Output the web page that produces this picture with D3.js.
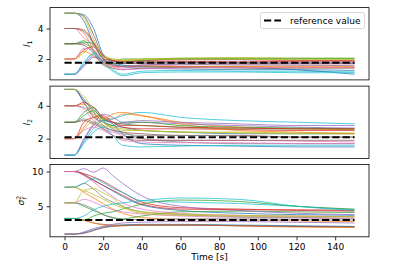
<!DOCTYPE html>
<html lang="en">
  <head>
    <meta charset="utf-8">
    <title>Hyperparameter traces</title>
    <script type="text/javascript" src="https://cdn.jsdelivr.net/npm/d3@7"></script>
    <style>
      body { margin: 0; background: #fff; }
      text { font-family: "DejaVu Sans", sans-serif; }
    </style>
  </head>
  <body>
    <script type="text/javascript">

    // time samples shared by every trace
    var times = [0, 5, 10, 15, 20, 25, 30, 40, 60, 90, 120, 150];
    var xTicks = [0, 20, 40, 60, 80, 100, 120, 140];

    // reference values (dashed lines)
    var refValues = [1.75, 2.08, 3.04];

    // l1 traces
    var l1 = [
      [5, 5, 4.5, 3.0, 2.0, 1.7, 1.5, 1.4, 1.35, 1.3, 1.3, 1.25],
      [4, 4, 3.7, 2.6, 1.8, 1.6, 1.5, 1.55, 1.5, 1.5, 1.45, 1.45],
      [3, 3, 3.2, 2.5, 1.9, 1.8, 2.0, 2.0, 2.05, 2.05, 2.05, 2.05],
      [2, 2, 2.6, 2.8, 2.0, 1.9, 1.85, 1.9, 1.95, 1.95, 1.9, 1.9],
      [1, 1, 1.6, 2.2, 1.9, 1.7, 1.7, 1.75, 1.8, 1.8, 1.8, 1.8],
      [5, 5, 4.8, 3.6, 2.2, 1.9, 1.7, 1.7, 1.75, 1.7, 1.7, 1.7],
      [4, 4, 3.4, 2.9, 2.1, 1.6, 1.4, 1.5, 1.6, 1.65, 1.6, 1.6],
      [3, 3, 3.0, 2.6, 1.8, 1.6, 1.55, 1.6, 1.65, 1.6, 1.6, 1.55],
      [2, 2, 2.4, 2.9, 2.3, 2.0, 1.95, 2.0, 2.05, 2.1, 2.05, 2.05],
      [1, 1, 1.7, 2.4, 1.8, 1.3, 1.0, 1.2, 1.25, 1.2, 1.2, 1.15],
      [5, 5, 4.9, 4.0, 2.3, 1.8, 1.6, 1.5, 1.5, 1.45, 1.3, 1.0],
      [2, 2, 2.5, 2.2, 1.7, 1.5, 1.5, 1.55, 1.5, 1.5, 1.5, 1.5],
      [3, 3, 3.1, 3.0, 2.0, 1.7, 1.8, 1.9, 2.0, 2.0, 2.0, 2.0],
      [4, 4, 3.9, 3.1, 2.2, 1.9, 1.8, 1.85, 1.85, 1.8, 1.85, 1.85],
      [1, 1, 1.5, 2.1, 1.9, 1.6, 1.5, 1.6, 1.7, 1.75, 1.7, 1.7],
      [3, 3, 2.9, 2.4, 1.6, 1.4, 1.3, 1.4, 1.45, 1.4, 1.4, 1.4],
      [2, 2, 2.7, 2.6, 1.8, 1.5, 1.3, 1.35, 1.4, 1.45, 1.45, 1.45],
      [4, 4, 3.8, 3.0, 2.0, 1.7, 1.75, 1.8, 1.8, 1.75, 1.75, 1.75],
      [5, 5, 4.7, 3.3, 2.1, 2.0, 1.9, 1.95, 2.0, 2.0, 1.95, 1.95],
      [1, 1, 1.8, 2.3, 1.7, 1.2, 0.9, 1.1, 1.15, 1.15, 1.1, 1.1]
    ];

    // l2 traces
    var l2 = [
      [5, 5, 4.4, 3.6, 3.0, 2.8, 2.7, 2.5, 2.4, 2.3, 2.3, 2.3],
      [4, 4, 4.1, 3.5, 3.3, 3.2, 3.5, 3.4, 3.0, 2.7, 2.6, 2.55],
      [3, 3, 3.6, 3.9, 3.2, 3.0, 2.9, 2.8, 2.7, 2.6, 2.6, 2.6],
      [2, 2, 3.0, 3.3, 3.4, 3.0, 2.7, 2.6, 2.6, 2.55, 2.5, 2.5],
      [1, 1, 1.9, 2.8, 3.1, 3.0, 2.9, 3.0, 2.9, 2.8, 2.7, 2.65],
      [5, 5, 4.2, 3.3, 3.0, 2.6, 2.4, 2.3, 2.2, 2.2, 2.1, 2.1],
      [4, 4, 3.8, 3.1, 2.6, 2.4, 2.2, 2.0, 1.9, 1.9, 1.85, 1.8],
      [3, 3, 3.2, 3.0, 2.7, 2.5, 2.4, 2.0, 1.8, 1.7, 1.7, 1.7],
      [2, 2, 2.6, 3.0, 2.8, 2.7, 2.6, 2.5, 2.4, 2.35, 2.3, 2.3],
      [1, 1, 1.8, 2.6, 3.1, 3.2, 3.4, 3.6, 3.3, 3.1, 3.0, 2.9],
      [5, 5, 4.3, 3.8, 3.2, 2.9, 2.3, 1.7, 1.6, 1.55, 1.5, 1.5],
      [2, 2, 2.7, 3.3, 3.2, 3.5, 3.6, 3.4, 2.9, 2.5, 2.4, 2.3],
      [3, 3, 3.4, 3.7, 3.1, 2.8, 3.0, 3.0, 2.8, 2.7, 2.65, 2.6],
      [4, 4, 4.2, 3.9, 3.3, 3.0, 2.8, 2.8, 2.7, 2.65, 2.6, 2.6],
      [1, 1, 2.0, 2.9, 3.5, 3.3, 3.0, 3.1, 3.0, 2.9, 2.8, 2.8],
      [3, 3, 3.1, 2.9, 2.6, 2.2, 2.0, 1.9, 1.9, 1.9, 1.9, 1.9],
      [2, 2, 2.5, 2.7, 2.5, 2.2, 1.9, 1.8, 1.75, 1.75, 1.7, 1.7],
      [4, 4, 3.9, 3.4, 2.8, 2.5, 2.3, 2.2, 2.2, 2.15, 2.1, 2.1],
      [5, 5, 4.6, 3.7, 3.0, 2.7, 2.5, 2.5, 2.4, 2.4, 2.35, 2.35],
      [1, 1, 1.7, 2.4, 2.7, 2.2, 1.6, 1.5, 1.55, 1.6, 1.6, 1.6]
    ];

    // sigma^2 traces
    var s2 = [
      [10, 10, 9.6, 8.8, 8.0, 7.2, 6.4, 5.2, 4.4, 4.0, 3.8, 3.7],
      [7.75, 7.75, 7.0, 6.2, 5.4, 4.6, 4.0, 3.4, 3.1, 3.0, 2.9, 2.8],
      [5.5, 5.5, 5.0, 4.4, 3.8, 3.4, 3.2, 3.6, 4.2, 4.3, 4.2, 4.1],
      [10, 10, 9.7, 9.2, 8.6, 7.8, 7.0, 5.6, 4.8, 4.6, 4.4, 4.3],
      [10, 10, 10.4, 9.9, 10.5, 9.4, 8.3, 6.5, 5.0, 4.4, 4.0, 3.8],
      [3.25, 3.25, 3.0, 2.6, 2.4, 2.3, 2.3, 2.3, 2.3, 2.2, 2.1, 2.0],
      [5.5, 5.5, 6.0, 5.6, 5.0, 4.5, 4.2, 3.9, 3.6, 3.4, 3.3, 3.2],
      [7.75, 7.75, 8.3, 7.5, 6.3, 5.6, 5.0, 4.2, 3.8, 3.5, 3.4, 3.3],
      [7.75, 7.75, 7.3, 7.6, 6.9, 6.2, 5.0, 4.0, 3.7, 3.6, 3.5, 3.5],
      [7.75, 7.75, 8.3, 9.0, 8.4, 7.6, 7.0, 5.8, 5.6, 5.4, 5.0, 4.5],
      [1, 1, 1.2, 1.6, 2.0, 2.2, 2.3, 2.4, 2.4, 2.3, 2.2, 2.1],
      [3.25, 3.25, 3.0, 2.6, 2.3, 2.2, 2.2, 2.3, 2.3, 2.2, 2.0, 1.95],
      [3.25, 3.25, 3.0, 3.6, 4.0, 4.2, 4.6, 5.3, 5.9, 5.7, 5.0, 4.6],
      [10, 10, 9.5, 8.7, 8.0, 7.3, 6.6, 5.3, 4.6, 4.5, 4.5, 4.4],
      [1, 1, 1.3, 1.8, 2.1, 2.4, 2.6, 2.7, 2.8, 2.8, 2.7, 2.6],
      [1, 1, 1.1, 1.5, 1.9, 2.1, 2.2, 2.3, 2.3, 2.2, 2.1, 2.05],
      [10, 10, 9.4, 8.5, 7.4, 6.4, 5.5, 4.6, 4.0, 3.7, 3.6, 3.5],
      [5.5, 5.5, 5.2, 4.6, 3.8, 3.3, 3.1, 3.1, 3.2, 3.2, 3.1, 3.0],
      [5.5, 5.5, 7.2, 6.7, 6.0, 5.3, 4.8, 4.2, 3.9, 3.7, 3.6, 3.5],
      [3.25, 3.25, 3.6, 4.5, 5.0, 5.3, 5.5, 5.8, 6.2, 6.0, 5.0, 4.4]
    ];

    var yTicks = [[2, 4], [2, 4], [5, 10]];
    var yDomains = [[0.63, 5.37], [0.8, 5.2], [0.61, 11.01]];

    var w = 420;
    var h = 270;
    var left = 50, right = 369;
    var tops = [7.6, 86.1, 164.5];
    var ph = 72.3;
    var fs = 9;

    var svg = d3.select("body").append("svg").attr("width", w).attr("height", h);

    var x = d3.scaleLinear().domain([-7.5, 157.5]).range([left, right]);
    var color = d3.scaleOrdinal(d3.schemeCategory10);
    var panels = [l1, l2, s2];

    panels.forEach(function(series, p) {
      var y = d3.scaleLinear().domain(yDomains[p]).range([tops[p] + ph, tops[p]]);
      var g = svg.append("g");

      var line = d3.line()
        .x(function(d, i) { return x(times[i]); })
        .y(function(d) { return y(d); })
        .curve(d3.curveMonotoneX);

      g.selectAll("path.trace").data(series).enter().append("path")
        .attr("class", "trace")
        .attr("d", line)
        .attr("fill", "none")
        .attr("stroke", function(d, i) { return color(i % 10); })
        .attr("stroke-width", 1)
        .attr("stroke-opacity", 0.75);

      // dashed reference
      g.append("line")
        .attr("x1", x(0)).attr("x2", x(150))
        .attr("y1", y(refValues[p])).attr("y2", y(refValues[p]))
        .attr("stroke", "#000").attr("stroke-width", 2)
        .attr("stroke-dasharray", "7.2,3.1");

      // y axis
      var ya = g.append("g").attr("transform", "translate(" + left + ",0)")
        .call(d3.axisLeft(y).tickValues(yTicks[p]).tickFormat(d3.format("d")).tickSize(3.5).tickPadding(3));
      ya.select(".domain").remove();
      ya.selectAll("text").attr("font-size", fs).attr("font-family", "DejaVu Sans").attr("fill", "#000");
      ya.selectAll("line").attr("stroke", "#000").attr("stroke-width", 0.8);

      // frame
      g.append("rect")
        .attr("x", left).attr("y", tops[p])
        .attr("width", right - left).attr("height", ph)
        .attr("fill", "none").attr("stroke", "#000").attr("stroke-width", 0.8);

      if (p === 2) {
        var xa = g.append("g").attr("transform", "translate(0," + (tops[p] + ph) + ")")
          .call(d3.axisBottom(x).tickValues(xTicks).tickFormat(d3.format("d")).tickSize(3.5).tickPadding(3));
        xa.select(".domain").remove();
        xa.selectAll("text").attr("font-size", fs).attr("font-family", "DejaVu Sans").attr("fill", "#000");
        xa.selectAll("line").attr("stroke", "#000").attr("stroke-width", 0.8);
      }
    });

    // y labels
    var labX = [30, 30, 24];
    [0, 1].forEach(function(p) {
      var t = svg.append("text")
        .attr("transform", "translate(" + labX[p] + "," + (tops[p] + ph / 2) + ") rotate(-90)")
        .attr("text-anchor", "middle")
        .attr("font-size", fs);
      t.append("tspan").attr("font-style", "italic").text("l");
      t.append("tspan").attr("font-size", fs * 0.7).attr("dy", 2).text(p + 1);
    });
    var ts = svg.append("text")
      .attr("transform", "translate(" + labX[2] + "," + (tops[2] + ph / 2) + ") rotate(-90)")
      .attr("text-anchor", "middle")
      .attr("font-size", fs);
    ts.append("tspan").attr("font-style", "italic").text("σ");
    ts.append("tspan").attr("font-size", fs * 0.7).attr("dy", -3.5).text("2");
    ts.append("tspan").attr("font-size", fs * 0.7).attr("font-style", "italic").attr("dx", -4).attr("dy", 6).text("f");

    // x label
    svg.append("text")
      .attr("x", (left + right) / 2).attr("y", 260)
      .attr("text-anchor", "middle")
      .attr("font-size", fs)
      .text("Time [s]");

    // legend
    var lg = svg.append("g");
    lg.append("rect")
      .attr("x", 260.5).attr("y", 12.5).attr("width", 104).attr("height", 16)
      .attr("rx", 2).attr("fill", "#fff").attr("fill-opacity", 0.8)
      .attr("stroke", "#ccc").attr("stroke-width", 0.8);
    lg.append("line")
      .attr("x1", 264).attr("x2", 281).attr("y1", 20.5).attr("y2", 20.5)
      .attr("stroke", "#000").attr("stroke-width", 2)
      .attr("stroke-dasharray", "7.2,3.1");
    lg.append("text")
      .attr("x", 290).attr("y", 23.8)
      .attr("font-size", fs)
      .text("reference value");

    </script>
  </body>
</html>
